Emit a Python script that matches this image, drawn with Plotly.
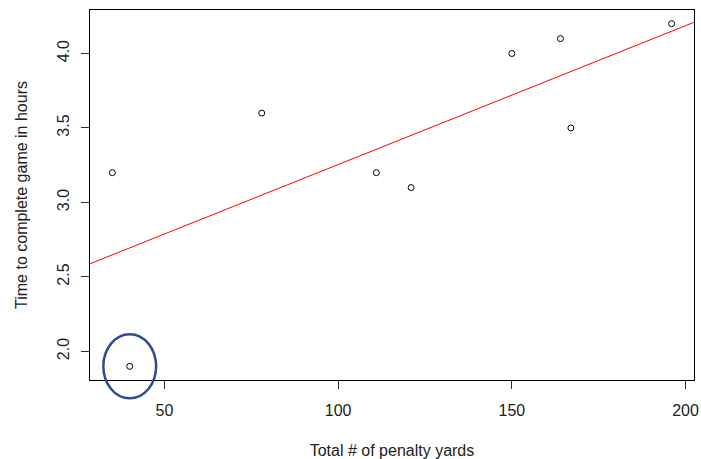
import numpy as np
import plotly.graph_objects as go

# Data
penalty_yards = [35, 40, 78, 111, 121, 150, 164, 167, 196]
game_hours = [3.2, 1.9, 3.6, 3.2, 3.1, 4.0, 4.1, 3.5, 4.2]
x_ticks = [50, 100, 150, 200]
y_ticks = [2.0, 2.5, 3.0, 3.5, 4.0]

x = np.array(penalty_yards, dtype=float)
y = np.array(game_hours, dtype=float)

def r_range(v):
    span = v.max() - v.min()
    return [v.min() - 0.04 * span, v.max() + 0.04 * span]

xr = r_range(x)
yr = r_range(y)

slope, intercept = np.polyfit(x, y, 1)
line_x = np.array(xr)
line_y = intercept + slope * line_x

font_family = "Liberation Sans, Arial, sans-serif"

fig = go.Figure()
fig.add_trace(go.Scatter(
    x=line_x, y=line_y, mode="lines",
    line=dict(color="#ff0000", width=1), hoverinfo="skip", showlegend=False))
fig.add_trace(go.Scatter(
    x=x, y=y, mode="markers",
    marker=dict(symbol="circle-open", size=6, color="#000000", line=dict(width=1)),
    showlegend=False))

# highlight ellipse around the outlier (lowest time)
i = int(np.argmin(y))
cx = (x[i] - xr[0]) / (xr[1] - xr[0])
cy = (y[i] - yr[0]) / (yr[1] - yr[0])
rx = 7.6 / (xr[1] - xr[0])
ry = 0.215 / (yr[1] - yr[0])
fig.add_shape(type="circle", xref="x domain", yref="y domain",
              x0=cx - rx, x1=cx + rx, y0=cy - ry, y1=cy + ry,
              line=dict(color="#2E4C8E", width=2.5), layer="above")

axis_common = dict(
    showline=True, mirror=True, linecolor="#000000", linewidth=1,
    showgrid=False, zeroline=False, ticks="outside", ticklen=8,
    tickcolor="#333333", tickwidth=1,
    tickfont=dict(family=font_family, size=16, color="#222222"),
)

fig.update_xaxes(range=xr, tickvals=x_ticks, ticktext=[str(t) for t in x_ticks],
                 title=dict(text="Total # of penalty yards", standoff=26,
                            font=dict(family=font_family, size=16, color="#222222")),
                 ticklabelstandoff=8, **axis_common)
fig.update_yaxes(range=yr, tickvals=y_ticks, ticktext=[f"{t:.1f}" for t in y_ticks],
                 tickangle=-90,
                 title=dict(text="Time to complete game in hours", standoff=22,
                            font=dict(family=font_family, size=16, color="#222222")),
                 ticklabelstandoff=6, **axis_common)

fig.update_layout(
    width=701, height=459,
    margin=dict(l=90, r=7, t=10, b=79, autoexpand=False),
    paper_bgcolor="white", plot_bgcolor="white",
    font=dict(family=font_family, size=16, color="#222222"),
)

fig.write_html("out.html", config={"displayModeBar": False},
               post_script="document.body.style.margin='0';document.body.style.overflow='hidden';")
